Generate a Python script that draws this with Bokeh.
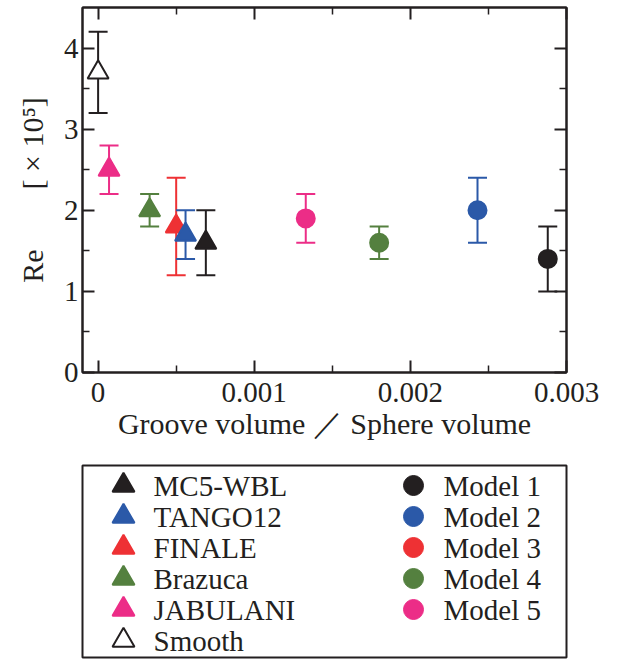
from bokeh.plotting import figure
from bokeh.models import (ColumnDataSource, Range1d, LinearAxis, FixedTicker,
                          Whisker, TeeHead)
from bokeh.core.properties import value
from bokeh.layouts import column
from bokeh.embed import file_html
from bokeh.resources import INLINE

nan = float("nan")

# ---- data ----
balls = ["MC5-WBL", "TANGO12", "FINALE", "Brazuca", "JABULANI", "Smooth"]
ball_x = [0.00069, 0.00056, 0.00050, 0.00033, 0.00007, 0.0]
ball_re = [1.6, 1.7, 1.8, 2.0, 2.5, 3.7]
ball_lo = [1.2, 1.4, 1.2, 1.8, 2.2, 3.2]
ball_hi = [2.0, 2.0, 2.4, 2.2, 2.8, 4.2]

models = ["Model 1", "Model 2", "Model 3", "Model 4", "Model 5"]
model_x = [0.00288, 0.00243, nan, 0.00180, 0.00133]
model_re = [1.4, 2.0, nan, 1.6, 1.9]
model_lo = [1.0, 1.6, nan, 1.4, 1.6]
model_hi = [1.8, 2.4, nan, 1.8, 2.2]

x_ticks = [0, 0.001, 0.002, 0.003]
x_tick_labels = ["0", "0.001", "0.002", "0.003"]
x_minor = [0.0005, 0.0015, 0.0025]
y_ticks = [0, 1, 2, 3, 4]
y_minor = [0.5, 1.5, 2.5, 3.5]

# ---- styles ----
INK = "#231f20"
palette = ["#231f20", "#2b59a8", "#ee3134", "#54803f", "#ec2d87"]
ball_line = palette + [INK]
ball_fill = palette + ["white"]
FONT = "Liberation Serif"

MAIN_H = 452
p = figure(width=622, height=MAIN_H, output_backend="svg", toolbar_location=None,
           x_range=Range1d(-0.0001, 0.003), y_range=Range1d(0, 4.5),
           min_border_left=77, min_border_right=46, min_border_top=7,
           min_border_bottom=MAIN_H - 372)
p.xgrid.visible = False
p.ygrid.visible = False
p.outline_line_color = INK
p.outline_line_width = 2
p.background_fill_color = "white"


def style_axis(ax, ticks, minor, labels=True):
    ax.ticker = FixedTicker(ticks=ticks, minor_ticks=minor)
    ax.axis_line_color = INK
    ax.axis_line_width = 2
    ax.major_tick_line_color = INK
    ax.major_tick_line_width = 2
    ax.minor_tick_line_color = INK
    ax.minor_tick_line_width = 1.5
    ax.major_tick_in = 12
    ax.major_tick_out = 0
    ax.minor_tick_in = 7
    ax.minor_tick_out = 0
    ax.major_label_text_font = FONT
    ax.major_label_text_color = INK
    ax.major_label_text_font_size = "29px"
    if not labels:
        ax.major_label_text_font_size = "0px"
        ax.major_label_text_alpha = 0
        ax.major_label_standoff = 0
        ax.axis_label = None


style_axis(p.xaxis[0], x_ticks, x_minor)
style_axis(p.yaxis[0], y_ticks, y_minor)
p.xaxis[0].major_label_overrides = dict(zip(x_ticks, x_tick_labels))
p.xaxis[0].major_label_standoff = 10
p.yaxis[0].major_label_standoff = 4

p.xaxis[0].axis_label = "Groove volume \uff0f Sphere volume"
p.yaxis[0].axis_label = "Re" + "\u00a0" * 8 + "[ \u00d7 10\u2075]"
for ax in (p.xaxis[0], p.yaxis[0]):
    ax.axis_label_text_font = FONT
    ax.axis_label_text_font_size = "30px"
    ax.axis_label_text_font_style = "normal"
    ax.axis_label_text_color = INK
p.xaxis[0].axis_label_standoff = 2
p.yaxis[0].axis_label_standoff = 12

top_ax = LinearAxis()
style_axis(top_ax, x_ticks, x_minor, labels=False)
p.add_layout(top_ax, "above")
right_ax = LinearAxis()
style_axis(right_ax, y_ticks, y_minor, labels=False)
p.add_layout(right_ax, "right")


def add_point(fig, x, y, lo, hi, marker, size, line, fill):
    src = ColumnDataSource(dict(x=[x], y=[y], lo=[lo], hi=[hi]))
    w = Whisker(source=src, base="x", upper="hi", lower="lo", dimension="height",
                line_color=line, line_width=2, level="underlay",
                upper_head=TeeHead(size=19, line_color=line, line_width=2),
                lower_head=TeeHead(size=19, line_color=line, line_width=2))
    fig.add_layout(w)
    fig.scatter(x="x", y="y", source=src, marker=marker, size=size,
                line_color=line, fill_color=fill, line_width=2)


for i in reversed(range(len(balls))):
    add_point(p, ball_x[i], ball_re[i], ball_lo[i], ball_hi[i],
              "triangle", 21, ball_line[i], ball_fill[i])
for i in reversed(range(len(models))):
    add_point(p, model_x[i], model_re[i], model_lo[i], model_hi[i],
              "circle", 18, palette[i], palette[i])

# ---- legend panel (boxed key below the plot) ----
LEG_H = 659 - MAIN_H
BOX_TOP, BOX_H, BOX_W = 13, 192, 484
leg = figure(width=622, height=LEG_H, output_backend="svg", toolbar_location=None,
             x_range=Range1d(0, BOX_W), y_range=Range1d(BOX_H, 0),
             x_axis_location=None, y_axis_location=None,
             min_border_left=82, min_border_right=622 - 82 - BOX_W,
             min_border_top=BOX_TOP, min_border_bottom=LEG_H - BOX_TOP - BOX_H)
leg.grid.visible = False
leg.outline_line_color = INK
leg.outline_line_width = 2
leg.background_fill_color = "white"

ROW0, PITCH = 20, 31
COL_GLYPH = [41, 331]
COL_TEXT = [71, 361]

key1 = ColumnDataSource(dict(
    gx=[COL_GLYPH[0]] * len(balls), tx=[COL_TEXT[0]] * len(balls),
    y=[ROW0 + PITCH * k for k in range(len(balls))],
    label=balls, line=ball_line, fill=ball_fill))
key2 = ColumnDataSource(dict(
    gx=[COL_GLYPH[1]] * len(models), tx=[COL_TEXT[1]] * len(models),
    y=[ROW0 + PITCH * k for k in range(len(models))],
    label=models, line=palette, fill=palette))

leg.scatter(x="gx", y="y", source=key1, marker="triangle", size=22,
            line_color="line", fill_color="fill", line_width=2)
leg.scatter(x="gx", y="y", source=key2, marker="circle", size=20,
            line_color="line", fill_color="fill", line_width=1)
for src in (key1, key2):
    leg.text(x="tx", y="y", text="label", source=src,
             text_font=value(FONT), text_font_size="29px",
             text_baseline="middle", text_align="left", text_color=INK)

layout = column(p, leg, spacing=0)
open("out.html", "w").write(file_html(layout, INLINE))
